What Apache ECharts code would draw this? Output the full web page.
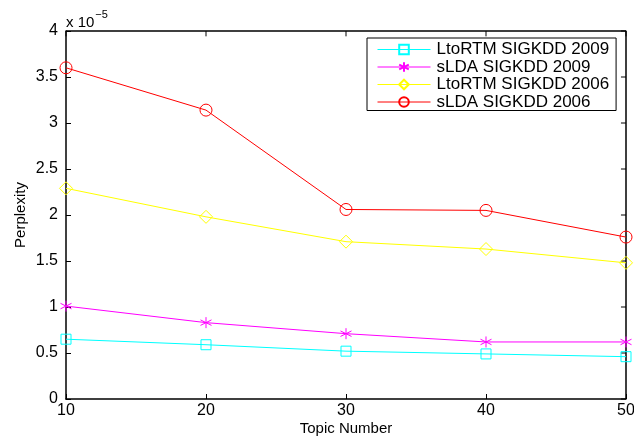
<!DOCTYPE html>
<html>
<head>
<meta charset="utf-8">
<script src="https://cdn.jsdelivr.net/npm/echarts@6/dist/echarts.min.js"></script>
<style>
  html, body { margin: 0; padding: 0; background: #fff; }
  #chart { width: 634px; height: 437px; }
</style>
</head>
<body>
<div id="chart"></div>
<script>
const topics = [10, 20, 30, 40, 50]
const ltoRtm2009 = [0.65, 0.59, 0.52, 0.49, 0.46]
const slda2009 = [1.01, 0.83, 0.71, 0.62, 0.62]
const ltoRtm2006 = [2.29, 1.98, 1.71, 1.63, 1.48]
const slda2006 = [3.60, 3.14, 2.06, 2.05, 1.76]
const yTicks = [0, 0.5, 1, 1.5, 2, 2.5, 3, 3.5, 4]

const font = 'Liberation Sans, Arial, Helvetica, sans-serif'
const asterisk = 'path://M0,-5L0,5M-4.33,-2.5L4.33,2.5M-4.33,2.5L4.33,-2.5'

const xMin = topics[0]
const xMax = topics[topics.length - 1]
const yMin = yTicks[0]
const yMax = yTicks[yTicks.length - 1]

const pairs = vals => topics.map((t, i) => [t, vals[i]])

const makeSeries = (name, vals, color, symbol, size) => ({
  name: name,
  type: 'line',
  data: pairs(vals),
  symbol: symbol,
  symbolSize: size,
  showAllSymbol: true,
  clip: false,
  lineStyle: { color: color, width: 1 },
  itemStyle: { color: 'rgba(255,255,255,0)', borderColor: color, borderWidth: 1 },
  emphasis: { disabled: true },
  animation: false,
  z: 3,
})

// top / right edges of the MATLAB box and their short inward ticks
const tickY = (yMax - yMin) * 0.0145
const tickX = (xMax - xMin) * 0.009
const boxEdge = [[xMin, yMax], [xMax, yMax], [xMax, yMin]]
const boxTicks = []
topics.forEach(t => boxTicks.push([t, yMax], [t, yMax - tickY], '-'))
yTicks.forEach(v => boxTicks.push([xMax, v], [xMax - tickX, v], '-'))

const frameSeries = (data, width) => ({
  type: 'line',
  data: data,
  symbol: 'none',
  clip: false,
  silent: true,
  connectNulls: false,
  lineStyle: { color: '#000', width: width },
  emphasis: { disabled: true },
  animation: false,
  z: 2,
})

const chart = echarts.init(document.getElementById('chart'))

const axisCommon = {
  axisLine: { show: true, onZero: false, lineStyle: { color: '#000', width: 1.5 } },
  axisTick: { show: true, inside: true, length: 5, lineStyle: { color: '#000', width: 1 } },
  splitLine: { show: false },
  nameMoveOverlap: false,
}

const option = {
  backgroundColor: '#fff',
  grid: {
    left: 66, right: 8, top: 31, bottom: 38,
    outerBoundsMode: 'none', containLabel: false,
  },
  legend: {
    orient: 'vertical',
    left: 367,
    top: 38,
    padding: [3, 7, 0, 10],
    itemWidth: 53,
    itemHeight: 12,
    itemGap: 0.5,
    backgroundColor: '#fff',
    borderColor: '#000',
    borderWidth: 1,
    borderRadius: 0,
    lineStyle: { width: 1 },
    textStyle: { fontFamily: font, fontSize: 17, lineHeight: 17, color: '#000', padding: [0, 0, 0, 1] },
    data: ['LtoRTM SIGKDD 2009', 'sLDA SIGKDD 2009', 'LtoRTM SIGKDD 2006', 'sLDA SIGKDD 2006'],
  },
  graphic: [
    {
      type: 'text',
      left: 66,
      top: 9,
      style: {
        text: '{a|x 10}{b|−5}',
        rich: {
          a: { fontFamily: font, fontSize: 15, fill: '#000', verticalAlign: 'bottom' },
          b: { fontFamily: font, fontSize: 11, fill: '#000', padding: [0, 0, 10, 1] },
        },
      },
    },
  ],
  xAxis: Object.assign({}, axisCommon, {
    type: 'value',
    min: xMin,
    max: xMax,
    interval: 10,
    name: 'Topic Number',
    nameLocation: 'middle',
    nameGap: 22,
    nameTextStyle: { fontFamily: font, fontSize: 15, color: '#000' },
    axisLabel: { fontFamily: font, fontSize: 16, color: '#000', margin: 4 },
  }),
  yAxis: Object.assign({}, axisCommon, {
    type: 'value',
    min: yMin,
    max: yMax,
    interval: 0.5,
    name: 'Perplexity',
    nameLocation: 'middle',
    nameGap: 38,
    nameRotate: 90,
    nameTextStyle: { fontFamily: font, fontSize: 15, color: '#000' },
    axisLabel: {
      fontFamily: font, fontSize: 16, color: '#000', margin: 8,
      formatter: v => (yTicks.includes(v) ? String(v) : ''),
    },
  }),
  series: [
    frameSeries(boxEdge, 1.5),
    frameSeries(boxTicks, 1),
    makeSeries('LtoRTM SIGKDD 2009', ltoRtm2009, '#00FFFF', 'rect', 10),
    makeSeries('sLDA SIGKDD 2009', slda2009, '#FF00FF', asterisk, 11),
    makeSeries('LtoRTM SIGKDD 2006', ltoRtm2006, '#FFFF00', 'diamond', 13),
    makeSeries('sLDA SIGKDD 2006', slda2006, '#FF0000', 'circle', 12),
  ],
}

chart.setOption(option)
</script>
</body>
</html>
